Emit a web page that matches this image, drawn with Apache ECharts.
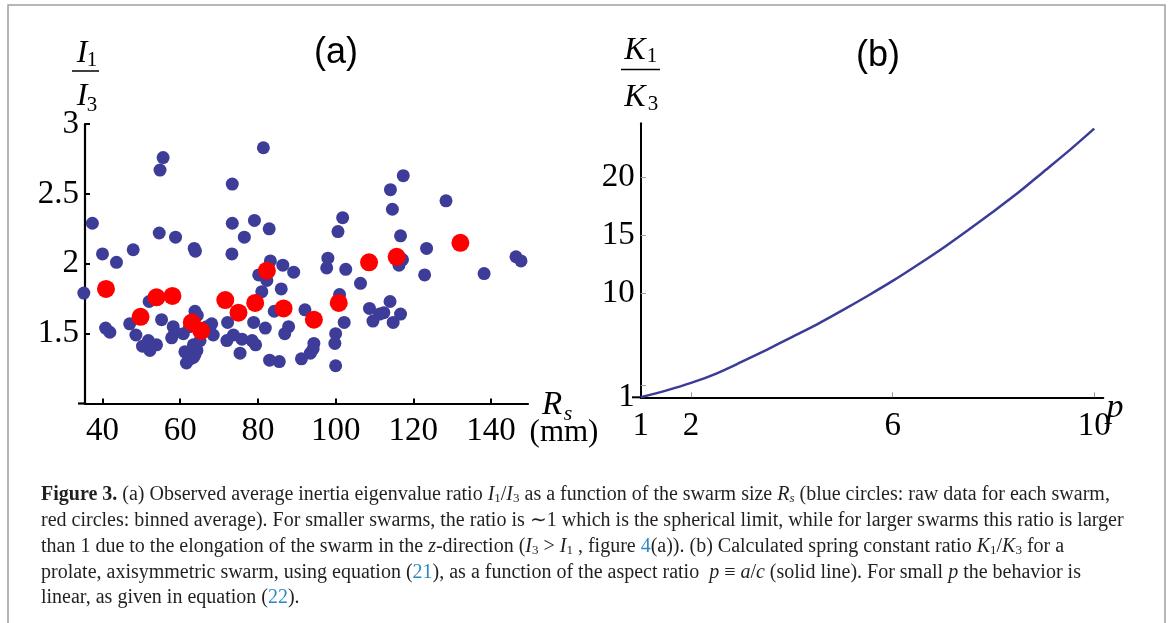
<!DOCTYPE html>
<html>
<head>
<meta charset="utf-8">
<script src="https://cdn.jsdelivr.net/npm/echarts@6/dist/echarts.min.js"></script>
<style>
  html, body { margin: 0; padding: 0; background: #fff; }
  #chart { width: 1168px; height: 623px; }
</style>
</head>
<body>
<div id="chart"></div>
<script>
// (a) raw swarm data: [Rs (mm), I1/I3]
const rawPoints = [
  [55.6, 2.76], [54.8, 2.67], [37.4, 2.29], [40.0, 2.07], [43.6, 2.01], [47.9, 2.10],
  [54.6, 2.22], [58.8, 2.19], [63.6, 2.11], [63.9, 2.09], [35.2, 1.79], [73.4, 2.57],
  [73.4, 2.29], [81.4, 2.83], [79.1, 2.31], [82.9, 2.25], [76.5, 2.19], [73.3, 2.07],
  [83.2, 2.02], [86.4, 1.99], [89.2, 1.94], [80.2, 1.92], [82.3, 1.88], [81.8, 1.91],
  [81.0, 1.80], [86.0, 1.82], [98.0, 2.04], [97.7, 1.97], [102.6, 1.96], [100.6, 2.23],
  [101.8, 2.33], [106.4, 1.86], [117.4, 2.63], [114.1, 2.53], [114.6, 2.39], [128.4, 2.45],
  [116.7, 2.20], [123.4, 2.11], [117.2, 2.03], [116.3, 1.99], [122.9, 1.92], [138.2, 1.93],
  [146.4, 2.05], [147.7, 2.02],
  [40.8, 1.54], [41.9, 1.51], [47.0, 1.57], [48.6, 1.49], [50.3, 1.41], [51.8, 1.45],
  [52.2, 1.38], [53.9, 1.42], [52.0, 1.73], [55.2, 1.60], [58.2, 1.55], [57.8, 1.47],
  [58.6, 1.51], [60.8, 1.50], [61.2, 1.37], [61.6, 1.29], [63.4, 1.42], [63.8, 1.35],
  [64.3, 1.38], [63.8, 1.66], [64.4, 1.63], [65.1, 1.45], [66.8, 1.55], [68.1, 1.57],
  [68.5, 1.49], [62.6, 1.32], [63.4, 1.33], [62.4, 1.55], [72.2, 1.58], [72.0, 1.45],
  [73.7, 1.49], [75.9, 1.46], [75.4, 1.36], [78.5, 1.45], [79.4, 1.42], [78.9, 1.58],
  [81.9, 1.54], [84.2, 1.66], [87.9, 1.55], [86.9, 1.50], [92.1, 1.67], [83.0, 1.31],
  [85.5, 1.30], [91.2, 1.32], [93.5, 1.36], [94.4, 1.43], [94.2, 1.39], [100.0, 1.50],
  [99.8, 1.43], [100.0, 1.27], [102.2, 1.58], [101.0, 1.78], [108.7, 1.68], [109.6, 1.59],
  [112.4, 1.65], [114.0, 1.73], [116.7, 1.64], [114.8, 1.58], [111.3, 1.64]
];

// (a) binned average
const binnedPoints = [
  [40.9, 1.82], [49.8, 1.62], [53.9, 1.76], [58.0, 1.77], [63.0, 1.58], [65.4, 1.52],
  [71.6, 1.74], [75.0, 1.65], [79.3, 1.72], [82.3, 1.95], [86.6, 1.68], [94.4, 1.60],
  [100.8, 1.72], [108.6, 2.01], [115.7, 2.05], [132.1, 2.15]
];

// (b) spring constant ratio K1/K3 vs aspect ratio p
const pValues = [1, 1.5, 2, 2.5, 3, 3.5, 4, 4.5, 5, 5.5, 6, 6.5, 7, 7.5, 8, 8.5, 9, 9.5, 10];
const kRatio = [1.0, 1.58, 2.24, 3.05, 4.05, 5.1, 6.2, 7.3, 8.5, 9.75, 11.05, 12.45, 13.9, 15.45, 17.05, 18.7, 20.5, 22.3, 24.2];

const xTicksA = [40, 60, 80, 100, 120, 140];
const yTicksA = [1.5, 2, 2.5, 3];
const xLabelsB = [1, 2, 6, 10];
const xTicksB = [2, 6, 10];
const yLabelsB = [1, 10, 15, 20];
const yTicksB = [2, 10, 15, 20];

const serif = 'Liberation Serif';
const blue = '#3d3d99';
const linkBlue = '#2b8ac5';
const ink = '#231f20';

const chart = echarts.init(document.getElementById('chart'));

const axisA = {
  axisLine: { show: true, onZero: false, lineStyle: { color: '#000', width: 2.2 } },
  splitLine: { show: false }
};
const labelStyle = { color: '#000', fontFamily: serif, fontSize: 33 };

function txt(x, y, text, size, extra) {
  return {
    type: 'text', x: x, y: y,
    style: Object.assign({
      text: text, fill: '#000', fontFamily: serif, fontSize: size,
      align: 'center', verticalAlign: 'middle', textAlign: 'center', textVerticalAlign: 'middle'
    }, extra || {})
  };
}
const it = { fontStyle: 'italic' };

const capSize = 20;
const captionRich = {
  b: { fontWeight: 'bold', fontFamily: serif, fontSize: capSize, fill: ink, color: ink },
  i: { fontStyle: 'italic', fontFamily: serif, fontSize: capSize, fill: ink, color: ink },
  s: { fontFamily: serif, fontSize: 13, padding: [8, 0, 0, 0], fill: ink, color: ink },
  si: { fontStyle: 'italic', fontFamily: serif, fontSize: 13, padding: [8, 0, 0, 0], fill: ink, color: ink },
  l: { fontFamily: serif, fontSize: capSize, fill: linkBlue, color: linkBlue }
};
const captionLines = [
  '{b|Figure 3.} (a) Observed average inertia eigenvalue ratio {i|I}{s|1}/{i|I}{s|3} as a function of the swarm size {i|R}{si|s} (blue circles: raw data for each swarm,',
  'red circles: binned average). For smaller swarms, the ratio is \u223c1 which is the spherical limit, while for larger swarms this ratio is larger',
  'than 1 due to the elongation of the swarm in the {i|z}-direction ({i|I}{s|3} > {i|I}{s|1} , figure {l|4}(a)). (b) Calculated spring constant ratio {i|K}{s|1}/{i|K}{s|3} for a',
  'prolate, axisymmetric swarm, using equation ({l|21}), as a function of the aspect ratio  {i|p} \u2261 {i|a}/{i|c} (solid line). For small {i|p} the behavior is',
  'linear, as given in equation ({l|22}).'
];
const captionY = [495, 521, 547, 573, 598];

const graphics = [
  { type: 'rect', shape: { x: 8, y: 5, width: 1157, height: 640 }, style: { fill: 'none', stroke: '#a0a0a0', lineWidth: 1.5 }, silent: true },
  // short overhang of the x axes past the y axes
  { type: 'line', shape: { x1: 78, y1: 403.5, x2: 86, y2: 403.5 }, style: { stroke: '#000', lineWidth: 2.2 } },
  { type: 'line', shape: { x1: 632, y1: 397.3, x2: 641, y2: 397.3 }, style: { stroke: '#000', lineWidth: 2 } },
  txt(336, 53, '(a)', 36, { fontFamily: 'Liberation Sans' }),
  txt(878, 56, '(b)', 36, { fontFamily: 'Liberation Sans' }),
  // I1 / I3
  txt(82, 54, 'I', 32, it),
  txt(92, 60, '1', 21),
  { type: 'line', shape: { x1: 72, y1: 71, x2: 99, y2: 71 }, style: { stroke: '#000', lineWidth: 1.5 } },
  txt(82, 97, 'I', 32, it),
  txt(92, 105, '3', 21),
  // K1 / K3
  txt(635, 51, 'K', 32, it),
  txt(652, 56, '1', 21),
  { type: 'line', shape: { x1: 621, y1: 69.5, x2: 660, y2: 69.5 }, style: { stroke: '#000', lineWidth: 1.5 } },
  txt(635, 98, 'K', 32, it),
  txt(653, 104, '3', 21),
  // Rs (mm)
  txt(552, 405, 'R', 33, it),
  txt(568, 414, 's', 22, it),
  txt(564, 433, '(mm)', 31),
  // p
  txt(1115, 408, 'p', 34, it)
];
captionLines.forEach(function (line, k) {
  graphics.push({
    type: 'text', x: 41, y: captionY[k],
    style: {
      text: line, fill: ink, fontFamily: serif, fontSize: capSize, rich: captionRich,
      align: 'left', verticalAlign: 'middle', textAlign: 'left', textVerticalAlign: 'middle'
    }
  });
});

const option = {
  animation: false,
  backgroundColor: '#fff',
  grid: [
    { left: 85, top: 124, width: 443, height: 279.5 },
    { left: 640.7, top: 123.3, width: 462.6, height: 274 }
  ],
  xAxis: [
    Object.assign({
      type: 'value', gridIndex: 0, min: 35.5, max: 149.5,
      axisTick: { show: true, inside: true, length: 5, customValues: xTicksA, lineStyle: { color: '#000', width: 2 } },
      axisLabel: Object.assign({ customValues: xTicksA, margin: 11 }, labelStyle)
    }, axisA),
    {
      type: 'value', gridIndex: 1, min: 1, max: 10.18,
      axisLine: { show: true, onZero: false, lineStyle: { color: '#000', width: 2 } },
      splitLine: { show: false },
      axisTick: { show: true, inside: true, length: 5, customValues: xTicksB, lineStyle: { color: '#999', width: 1 } },
      axisLabel: Object.assign({ customValues: xLabelsB, margin: 13 }, labelStyle)
    }
  ],
  yAxis: [
    Object.assign({
      type: 'value', gridIndex: 0, min: 1, max: 3,
      axisTick: { show: true, inside: true, length: 5, customValues: yTicksA, lineStyle: { color: '#000', width: 2 } },
      axisLabel: Object.assign({ customValues: yTicksA, margin: 6 }, labelStyle)
    }, axisA),
    {
      type: 'value', gridIndex: 1, min: 1, max: 24.66,
      axisLine: { show: true, onZero: false, lineStyle: { color: '#000', width: 2 } },
      splitLine: { show: false },
      axisTick: { show: true, inside: true, length: 5, customValues: yTicksB, lineStyle: { color: '#999', width: 1 } },
      axisLabel: Object.assign({ customValues: yLabelsB, margin: 6 }, labelStyle)
    }
  ],
  series: [
    {
      type: 'scatter', xAxisIndex: 0, yAxisIndex: 0, data: rawPoints,
      symbolSize: 13, clip: false, itemStyle: { color: blue, opacity: 1 }
    },
    {
      type: 'scatter', xAxisIndex: 0, yAxisIndex: 0, data: binnedPoints,
      symbolSize: 18, clip: false, z: 3, itemStyle: { color: '#ff0000', opacity: 1 }
    },
    {
      type: 'line', xAxisIndex: 1, yAxisIndex: 1,
      data: pValues.map(function (p, k) { return [p, kRatio[k]]; }),
      smooth: 0.3, showSymbol: false, symbol: 'none',
      lineStyle: { color: '#3b3b98', width: 2.5 }
    }
  ],
  graphic: graphics
};

chart.setOption(option);
</script>
</body>
</html>
